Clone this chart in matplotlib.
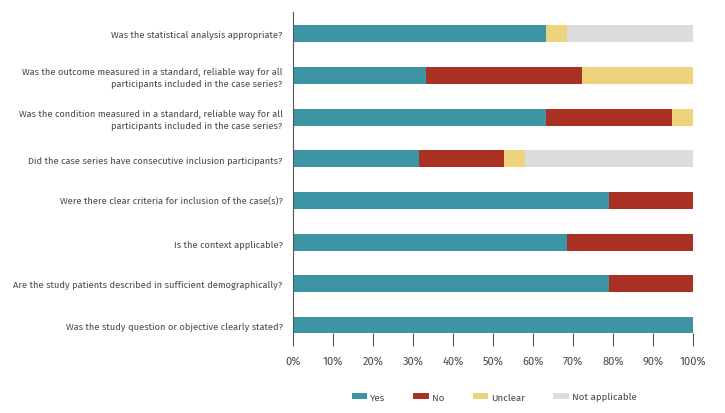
import matplotlib
matplotlib.use('Agg')
import matplotlib.pyplot as plt
import numpy as np

## -- categories, top to bottom
questions = [
 'Was the statistical analysis appropriate?',
 'Was the outcome measured in a standard, reliable way for all\nparticipants included in the case series?',
 'Was the condition measured in a standard, reliable way for all\nparticipants included in the case series?',
 'Did the case series have consecutive inclusion participants?',
 'Were there clear criteria for inclusion of the case(s)?',
 'Is the context applicable?',
 'Are the study patients described in sufficient demographically?',
 'Was the study question or objective clearly stated?',
]
## -- percentages per answer
yes_pct     = [63.2, 33.3, 63.2, 31.6, 78.9, 68.4, 78.9, 100.0]
no_pct      = [0.0, 38.9, 31.6, 21.1, 21.1, 31.6, 21.1, 0.0]
unclear_pct = [5.2, 27.8, 5.2, 5.3, 0.0, 0.0, 0.0, 0.0]
na_pct      = [31.6, 0.0, 0.0, 42.0, 0.0, 0.0, 0.0, 0.0]
series_names = ['Yes', 'No', 'Unclear', 'Not applicable']
ticks = np.arange(0, 101, 10)

colors = ['#3d94a5', '#a83124', '#efd27c', '#dcdddf']
txtcol = '#4a4a4a'

plt.rcParams['font.family'] = ['Fira Sans', 'DejaVu Sans']

fig = plt.figure(figsize=(7.25, 4.14), dpi=100)
ax = fig.add_axes([293/725, 1-334/414, 400/725, 321/414])

ypos = np.arange(len(questions))
left = np.zeros(len(questions))
for name, vals, c in zip(series_names, [yes_pct, no_pct, unclear_pct, na_pct], colors):
  vals = np.array(vals)
  ax.barh(ypos, vals, left=left, height=0.41, color=c, label=name, linewidth=0)
  left += vals

ax.set_ylim(7.18, -0.52)
ax.set_xlim(0, 100)
ax.set_yticks(ypos)
ax.set_yticklabels(questions, fontsize=6.7, color=txtcol, linespacing=1.3)
ax.set_xticks(ticks)
ax.set_xticklabels(['%d%%' % t for t in ticks], fontsize=8, color=txtcol)
ax.tick_params(axis='y', length=0, pad=7.5)
ax.tick_params(axis='x', length=9.4, width=0.8, color='#555555', pad=7)
for s in ['top', 'right', 'bottom']:
  ax.spines[s].set_visible(False)
ax.spines['left'].set_color('#555555')
ax.spines['left'].set_linewidth(0.8)

fig.legend(loc='center', bbox_to_anchor=(494/725, 1-398/414), ncol=4, frameon=False,
  fontsize=7, handlelength=1.6, handleheight=0.6,
  columnspacing=2.9, handletextpad=0.3, labelcolor=txtcol)

fig.savefig('out.png', dpi=100)
